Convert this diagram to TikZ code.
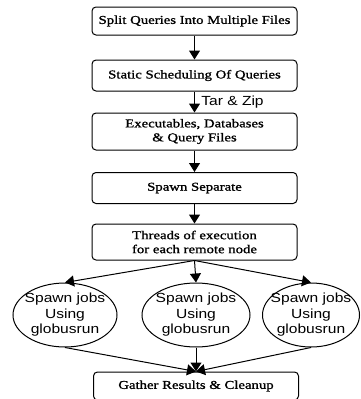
\documentclass[tikz,border=0pt]{standalone}
\usepackage{fontspec}
\setmainfont[FakeStretch=1.23,FakeBold=1.2]{Liberation Serif}
\newfontfamily\sansw[FakeStretch=1.18]{Liberation Sans}
\usetikzlibrary{shapes.geometric,arrows.meta}

\tikzset{
  stage/.style={draw, rounded corners=4pt, minimum width=205pt, align=center,
    font=\fontsize{12}{14}\selectfont, line width=1pt},
  job/.style={draw, ellipse, inner xsep=-8pt, inner ysep=-1pt, minimum height=64pt,
    align=center, font=\sansw\fontsize{13.2}{15.5}\selectfont, line width=1pt},
  flow/.style={-{Triangle[length=9pt,width=11pt]}, line width=1pt}
}

\begin{document}
\begin{tikzpicture}[x=1pt,y=-1pt]
        \useasboundingbox (0,0) rectangle (361,399);

        \node[stage, minimum height=28pt] (split) at (194.5,21) {Split Queries Into Multiple Files};
        \node[stage, minimum height=31pt] (sched) at (194.5,75.5) {Static Scheduling Of Queries};
        \node[stage, minimum height=37pt] (exec) at (194.5,131.5) {Executables, Databases\\\& Query Files};
        \node[stage, minimum height=31pt] (spawn) at (194.5,188) {Spawn Separate};
        \node[stage, minimum height=36pt] (threads) at (194.5,242) {Threads of execution\\for each remote node};
        %jobs
        \node[job, minimum width=104pt] (jobA) at (65,315) {Spawn jobs\\Using\\globusrun};
        \node[job, minimum width=108pt] (jobB) at (196,315) {Spawn jobs\\Using\\globusrun};
        \node[job, minimum width=97pt] (jobC) at (311,315) {Spawn jobs\\Using\\globusrun};
        \node[stage, minimum height=28pt] (gather) at (196,386) {Gather Results \& Cleanup};

        \draw[flow] (split) -- (sched);
        \draw[flow] (sched) -- node[right=3pt, font=\sansw\fontsize{13.2}{15}\selectfont] {Tar \& Zip} (exec);
        \draw[flow] (exec) -- (spawn);
        \draw[flow] (spawn) -- (threads);
        \draw[flow] (threads.south) -- (jobA.north);
        \draw[flow] (threads.south) -- (jobB.north);
        \draw[flow] (threads.south) -- (jobC.north);
        \draw[flow] (jobA.south) -- (gather.north);
        \draw[flow] (jobB.south) -- (gather.north);
        \draw[flow] (jobC.south) -- (gather.north);
    \end{tikzpicture}
\end{document}
